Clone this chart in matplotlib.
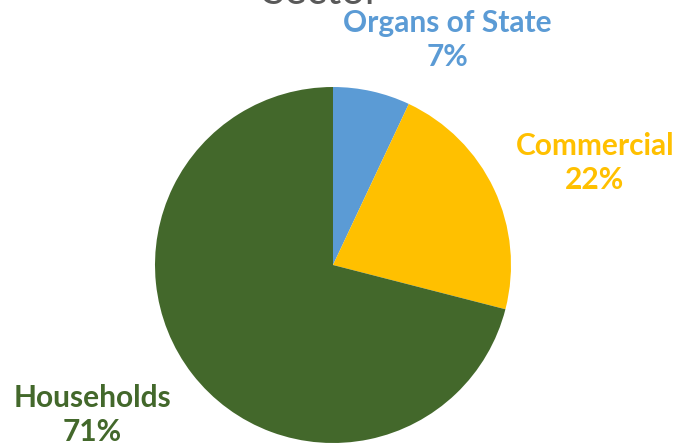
import matplotlib.pyplot as plt

categories = ['Organs of State', 'Commercial', 'Households']
shares = [7, 22, 71]
colors = ['#5B9BD5', '#FFC000', '#43682B']

W, H = 679, 448

fig = plt.figure(figsize=(W / 100, H / 100), dpi=100)
ax = fig.add_axes([0, 0, 1, 1])

ax.pie(shares, colors=colors, startangle=90, counterclock=False,
       center=(333, H - 265), radius=178, frame=True,
       wedgeprops=dict(linewidth=0))
ax.set_xlim(0, W)
ax.set_ylim(0, H)
ax.set_aspect('equal')
ax.axis('off')

# label spots (pixel coords from top-left)
label_pos = [(447, 40), (595, 163), (92, 415)]
for name, val, c, (x, y) in zip(categories, shares, colors, label_pos):
    ax.text(x, H - y, f'{name}\n{val}%', color=c, ha='center', va='center',
            fontsize=21.5, fontweight='bold', family='Lato', linespacing=1.3)

# title mostly cut off at top
ax.text(322, H - 4, 'Sector', color='#595959', ha='center', va='baseline',
        fontsize=30, family='Lato')

fig.savefig('out.png', dpi=100)
